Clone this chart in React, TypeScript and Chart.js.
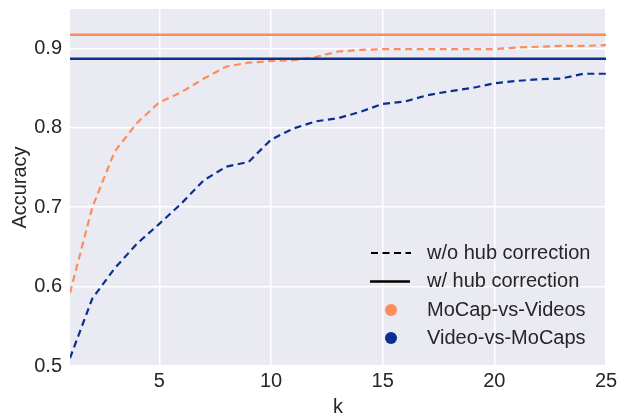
import React, { useEffect, useRef } from "react";
import { Chart, registerables } from "chart.js";

Chart.register(...registerables);

const kValues = [1, 2, 3, 4, 5, 6, 7, 8, 9, 10, 11, 12, 13, 14, 15, 16, 17, 18, 19, 20, 21, 22, 23, 24, 25];
const mocapNoHub = [0.592, 0.700, 0.770, 0.806, 0.832, 0.845, 0.862, 0.877, 0.882, 0.884, 0.885, 0.889, 0.896, 0.898, 0.899, 0.899, 0.899, 0.899, 0.899, 0.899, 0.901, 0.902, 0.903, 0.903, 0.904];
const videoNoHub = [0.510, 0.585, 0.623, 0.654, 0.679, 0.705, 0.734, 0.751, 0.757, 0.785, 0.799, 0.808, 0.812, 0.820, 0.830, 0.833, 0.841, 0.846, 0.850, 0.856, 0.859, 0.861, 0.862, 0.868, 0.868];
const mocapHub = 0.917;
const videoHub = 0.887;
const xTicks = [5, 10, 15, 20, 25];
const yTicks = [0.5, 0.6, 0.7, 0.8, 0.9];
const legendLines = ["w/o hub correction", "w/ hub correction"];
const seriesNames = ["MoCap-vs-Videos", "Video-vs-MoCaps"];

const ORANGE = "#fc8d59";
const BLUE = "#0a2f8f";
const TEXT = "#262626";
const FONT = "'Liberation Sans', Arial, sans-serif";

export default function App() {
  const ref = useRef<HTMLCanvasElement | null>(null);

  useEffect(() => {
    document.body.style.margin = "0";
    const canvas = ref.current;
    if (!canvas) return;

    const bgPlugin = {
      id: "bg",
      beforeDraw(chart: any) {
        const { ctx, chartArea } = chart;
        ctx.save();
        ctx.fillStyle = "#eaeaf2";
        ctx.fillRect(chartArea.left, chartArea.top, chartArea.right - chartArea.left, chartArea.bottom - chartArea.top);
        ctx.restore();
      },
    };

    const legendPlugin = {
      id: "customLegend",
      afterDatasetsDraw(chart: any) {
        const { ctx, chartArea } = chart;
        const tx = chartArea.right - 179;
        const rows = [chartArea.bottom - 113, chartArea.bottom - 84.5, chartArea.bottom - 56, chartArea.bottom - 28];
        ctx.save();
        ctx.font = `20px ${FONT}`;
        ctx.fillStyle = TEXT;
        ctx.textBaseline = "middle";
        ctx.textAlign = "left";
        const labels = [...legendLines, ...seriesNames];
        labels.forEach((l, i) => ctx.fillText(l, tx, rows[i]));
        ctx.strokeStyle = "#000";
        ctx.lineWidth = 2;
        ctx.setLineDash([7, 4.5]);
        ctx.beginPath();
        ctx.moveTo(tx - 56, rows[0]);
        ctx.lineTo(tx - 16, rows[0]);
        ctx.stroke();
        ctx.setLineDash([]);
        ctx.lineWidth = 2.5;
        ctx.beginPath();
        ctx.moveTo(tx - 57, rows[1]);
        ctx.lineTo(tx - 17, rows[1]);
        ctx.stroke();
        [ORANGE, BLUE].forEach((c, i) => {
          ctx.fillStyle = c;
          ctx.beginPath();
          ctx.arc(tx - 36, rows[2 + i], 6, 0, Math.PI * 2);
          ctx.fill();
        });
        ctx.restore();
      },
    };

    const chart = new Chart(canvas, {
      type: "line",
      data: {
        datasets: [
          {
            label: "MoCap hub",
            data: [{ x: kValues[0], y: mocapHub }, { x: kValues[kValues.length - 1], y: mocapHub }],
            borderColor: ORANGE,
            borderWidth: 2.5,
            pointRadius: 0,
          },
          {
            label: "Video hub",
            data: [{ x: kValues[0], y: videoHub }, { x: kValues[kValues.length - 1], y: videoHub }],
            borderColor: BLUE,
            borderWidth: 2.5,
            pointRadius: 0,
          },
          {
            label: "MoCap no hub",
            data: kValues.map((k, i) => ({ x: k, y: mocapNoHub[i] })),
            borderColor: ORANGE,
            borderWidth: 2.2,
            borderDash: [7, 4.5],
            pointRadius: 0,
          },
          {
            label: "Video no hub",
            data: kValues.map((k, i) => ({ x: k, y: videoNoHub[i] })),
            borderColor: BLUE,
            borderWidth: 2.2,
            borderDash: [7, 4.5],
            pointRadius: 0,
          },
        ],
      },
      options: {
        animation: false,
        responsive: false,
        maintainAspectRatio: false,
        layout: { padding: { top: 9, right: 26, left: 0, bottom: 0 } },
        plugins: { legend: { display: false }, tooltip: { enabled: false } },
        scales: {
          x: {
            type: "linear",
            min: 1,
            max: 25,
            afterBuildTicks: (s: any) => {
              s.ticks = xTicks.map((v) => ({ value: v }));
            },
            afterFit: (s: any) => {
              s.height = 50;
            },
            grid: { color: "#ffffff", lineWidth: 1.5, drawTicks: false },
            border: { display: false },
            ticks: { color: TEXT, font: { size: 20, family: FONT }, padding: 3, maxRotation: 0 },
            title: { display: true, text: "k", color: TEXT, font: { size: 20, family: FONT, lineHeight: 0.9 }, padding: { top: 0, bottom: 0 } },
          },
          y: {
            type: "linear",
            min: 0.5,
            max: 0.9495,
            afterBuildTicks: (s: any) => {
              s.ticks = yTicks.map((v) => ({ value: v }));
            },
            afterFit: (s: any) => {
              s.width = 70;
              s.paddingTop = 0;
              s.paddingBottom = 0;
            },
            grid: { color: "#ffffff", lineWidth: 1.5, drawTicks: false },
            border: { display: false },
            ticks: { color: TEXT, font: { size: 20, family: FONT }, padding: 8, callback: (v: any) => Number(v).toFixed(1) },
            title: { display: true, text: "Accuracy", color: TEXT, font: { size: 20, family: FONT }, padding: { top: 8, bottom: 0 } },
          },
        },
      },
      plugins: [bgPlugin, legendPlugin],
    } as any);

    return () => chart.destroy();
  }, []);

  return (
    <div style={{ width: 632, height: 416 }}>
      <canvas ref={ref} width={632} height={416} style={{ display: "block" }} />
    </div>
  );
}
